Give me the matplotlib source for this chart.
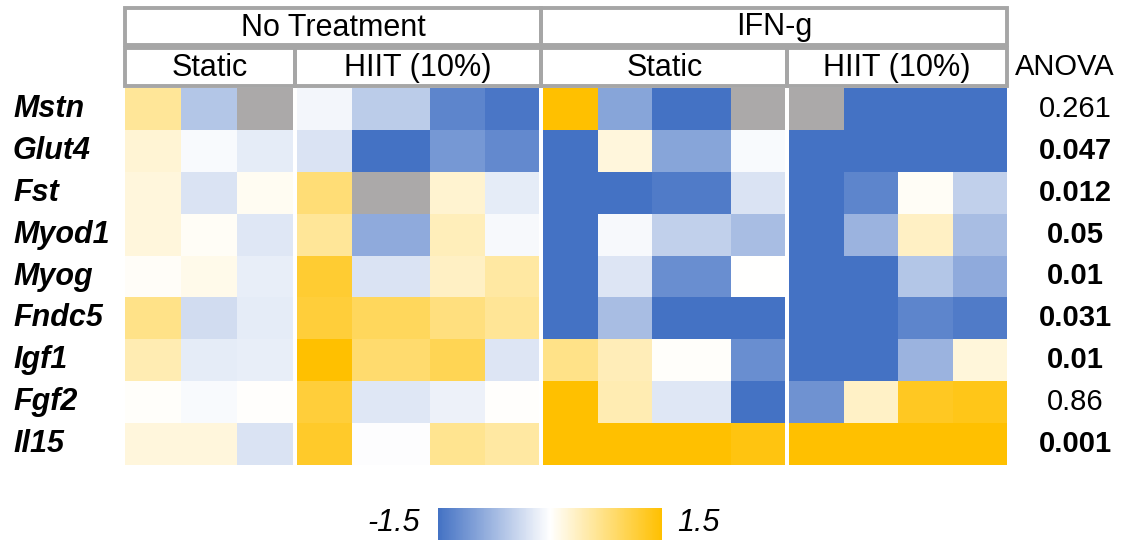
import numpy as np
import matplotlib.pyplot as plt
from matplotlib.colors import LinearSegmentedColormap, Normalize
from matplotlib.patches import Rectangle
import matplotlib.cm as cm

plt.rcParams['font.family'] = ['Liberation Sans', 'DejaVu Sans']

genes = ["Mstn", "Glut4", "Fst", "Myod1", "Myog", "Fndc5", "Igf1", "Fgf2", "Il15"]
anova = ["0.261", "0.047", "0.012", "0.05", "0.01", "0.031", "0.01", "0.86", "0.001"]
anova_bold = [False, True, True, True, True, True, True, False, True]
groups = ["No Treatment", "IFN-g"]
subgroups = ["Static", "HIIT (10%)", "Static", "HIIT (10%)"]
nan = np.nan

# z-scores, rows = genes
nt_static = np.array([
    [0.6, -0.6, nan],
    [0.25, -0.05, -0.2],
    [0.2, -0.3, 0.08],
    [0.2, 0.05, -0.25],
    [0.04, 0.12, -0.18],
    [0.7, -0.37, -0.2],
    [0.45, -0.2, -0.18],
    [0.03, -0.05, 0.02],
    [0.2, 0.2, -0.3],
])
nt_hiit = np.array([
    [-0.1, -0.55, -1.3, -1.45],
    [-0.3, -1.5, -1.1, -1.25],
    [0.8, nan, 0.28, -0.2],
    [0.6, -0.9, 0.4, -0.07],
    [1.2, -0.3, 0.35, 0.55],
    [1.15, 0.95, 0.75, 0.62],
    [1.5, 0.85, 1.0, -0.28],
    [1.15, -0.25, -0.15, 0.02],
    [1.25, -0.02, 0.65, 0.55],
])
ifn_static = np.array([
    [1.5, -0.95, -1.5, nan],
    [-1.5, 0.2, -0.95, -0.05],
    [-1.5, -1.5, -1.4, -0.3],
    [-1.5, -0.07, -0.5, -0.7],
    [-1.5, -0.28, -1.2, 0.0],
    [-1.5, -0.7, -1.5, -1.5],
    [0.7, 0.42, 0.03, -1.2],
    [1.5, 0.45, -0.25, -1.5],
    [1.5, 1.5, 1.5, 1.4],
])
ifn_hiit = np.array([
    [nan, -1.5, -1.5, -1.5],
    [-1.5, -1.5, -1.5, -1.5],
    [-1.5, -1.3, 0.05, -0.5],
    [-1.5, -0.8, 0.35, -0.7],
    [-1.5, -1.5, -0.6, -0.9],
    [-1.5, -1.5, -1.3, -1.4],
    [-1.5, -1.5, -0.8, 0.22],
    [-1.15, 0.33, 1.3, 1.35],
    [1.5, 1.5, 1.5, 1.5],
])
blocks = [nt_static, nt_hiit, ifn_static, ifn_hiit]
# relative column widths in each block (some columns are drawn wider)
col_widths = [[1.03, 1.03, 1.03], [1, 1.45, 1, 1], [1, 1, 1.45, 1], [1, 1, 1, 1]]

cmap = LinearSegmentedColormap.from_list("bwy", ["#4472C4", "#FFFFFF", "#FFC000"])
cmap.set_bad("#ABA9A9")
norm = Normalize(-1.5, 1.5)

W, H = 1134, 541
fig = plt.figure(figsize=(W / 100, H / 100), dpi=100)
ax = fig.add_axes([0, 0, 1, 1])
ax.set_xlim(0, W)
ax.set_ylim(H, 0)
ax.axis("off")

# layout in pixels
left, right = 125, 1007
top, bottom = 88, 465
gap = 4
n_units = sum(sum(w) for w in col_widths)
unit = (right - left - gap * (len(blocks) - 1)) / n_units
row_h = (bottom - top) / len(genes)
y_edges = top + np.arange(len(genes) + 1) * row_h

block_bounds = []
x0 = left
for data, widths in zip(blocks, col_widths):
    xe = x0 + np.concatenate([[0], np.cumsum(widths)]) * unit
    ax.pcolormesh(xe, y_edges, np.ma.masked_invalid(data), cmap=cmap, norm=norm,
                  antialiased=False, edgecolors="none")
    block_bounds.append((xe[0], xe[-1]))
    x0 = xe[-1] + gap

# header boxes
edge = "#A6A6A6"
fs = 22
r1 = (8, 45)
r2 = (48, 86)
for i, g in enumerate(groups):
    a = block_bounds[2 * i][0] - (gap / 2 if i else 0)
    b = block_bounds[2 * i + 1][1] + (gap / 2 if i == 0 else 0)
    ax.add_patch(Rectangle((a, r1[0]), b - a, r1[1] - r1[0], fill=False, ec=edge, lw=2.8))
    ax.text((a + b) / 2, (r1[0] + r1[1]) / 2 + 1, g, ha="center", va="center", fontsize=fs)
for i, s in enumerate(subgroups):
    a = block_bounds[i][0] - (gap / 2 if i else 0)
    b = block_bounds[i][1] + (gap / 2 if i < 3 else 0)
    ax.add_patch(Rectangle((a, r2[0]), b - a, r2[1] - r2[0], fill=False, ec=edge, lw=2.8))
    ax.text((a + b) / 2, (r2[0] + r2[1]) / 2 + 1, s, ha="center", va="center", fontsize=fs)

ax.text(1015, 67, "ANOVA", ha="left", va="center", fontsize=fs - 1)

for i, gname in enumerate(genes):
    yc = (y_edges[i] + y_edges[i + 1]) / 2
    ax.text(13, yc, gname, ha="left", va="center", fontsize=fs,
            fontweight="bold", fontstyle="italic")
    ax.text(1075, yc, anova[i], ha="center", va="center", fontsize=fs - 1,
            fontweight="bold" if anova_bold[i] else "normal")

# color scale
cax = fig.add_axes([438 / W, 1 - 540 / H, (662 - 438) / W, 32 / H])
cb = fig.colorbar(cm.ScalarMappable(norm=norm, cmap=cmap), cax=cax, orientation="horizontal")
cb.outline.set_visible(False)
cb.set_ticks([])
ax.text(420, 523, "-1.5", ha="right", va="center", fontsize=fs, fontstyle="italic")
ax.text(677, 523, "1.5", ha="left", va="center", fontsize=fs, fontstyle="italic")

fig.savefig("out.png", dpi=100)
